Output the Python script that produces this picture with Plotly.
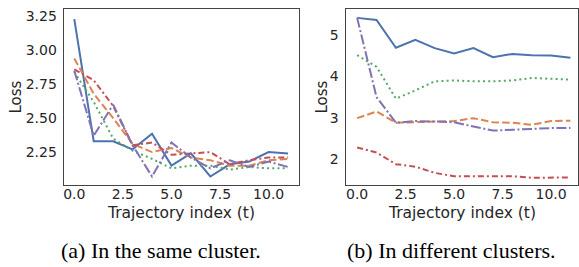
import plotly.graph_objects as go

W, H = 579, 267

t = list(range(12))

# (a) In the same cluster
a_blue = [3.23, 2.33, 2.33, 2.27, 2.385, 2.15, 2.24, 2.07, 2.16, 2.18, 2.25, 2.24]
a_orange = [2.94, 2.68, 2.50, 2.31, 2.25, 2.28, 2.21, 2.19, 2.15, 2.15, 2.19, 2.20]
a_green = [2.84, 2.62, 2.35, 2.26, 2.20, 2.13, 2.15, 2.15, 2.12, 2.14, 2.13, 2.13]
a_red = [2.86, 2.78, 2.59, 2.30, 2.32, 2.23, 2.24, 2.25, 2.16, 2.19, 2.21, 2.21]
a_purple = [2.85, 2.37, 2.60, 2.30, 2.07, 2.32, 2.21, 2.13, 2.19, 2.14, 2.18, 2.14]

# (b) In different clusters
b_blue = [5.41, 5.36, 4.69, 4.88, 4.68, 4.55, 4.68, 4.46, 4.54, 4.51, 4.50, 4.45]
b_orange = [2.99, 3.15, 2.88, 2.89, 2.91, 2.92, 2.99, 2.89, 2.88, 2.83, 2.92, 2.93]
b_green = [4.51, 4.23, 3.46, 3.66, 3.88, 3.90, 3.88, 3.88, 3.90, 3.96, 3.94, 3.92]
b_red = [2.28, 2.16, 1.88, 1.82, 1.67, 1.59, 1.59, 1.59, 1.59, 1.55, 1.55, 1.56]
b_purple = [5.41, 3.50, 2.88, 2.92, 2.91, 2.89, 2.79, 2.69, 2.71, 2.73, 2.75, 2.75]

a_yticks = [2.25, 2.50, 2.75, 3.00, 3.25]
b_yticks = [2, 3, 4, 5]
xticks = [0.0, 2.5, 5.0, 7.5, 10.0]
xlabel = "Trajectory index (t)"
ylabel = "Loss"
caption_a = "(a) In the same cluster."
caption_b = "(b) In different clusters."

colors = ["#4C72B0", "#DD8452", "#55A868", "#C44E52", "#8172B3"]
dashes = ["solid", "7.5px,3.2px", "2px,3.2px", "6px,3px,2px,3px", "10px,2.6px,2px,2.6px"]

fig = go.Figure()
for ys, xa, yax in [([a_blue, a_orange, a_green, a_red, a_purple], "x", "y"),
                    ([b_blue, b_orange, b_green, b_red, b_purple], "x2", "y2")]:
    for y, c, d in zip(ys, colors, dashes):
        fig.add_trace(go.Scatter(x=t, y=y, mode="lines", xaxis=xa, yaxis=yax,
                                 line=dict(color=c, width=2, dash=d),
                                 showlegend=False, hoverinfo="skip"))

tickfont = dict(family="DejaVu Sans", size=14, color="#262626")
axcommon = dict(showline=True, mirror=True, linecolor="#444444", linewidth=1.3,
                showgrid=False, zeroline=False, ticks="", ticklen=0, tickfont=tickfont)

top, bottom = 8, 185
ydom = [1 - bottom / H, 1 - top / H]

fig.update_layout(
    width=W, height=H,
    margin=dict(l=0, r=0, t=0, b=0),
    paper_bgcolor="white", plot_bgcolor="white",
    xaxis=dict(domain=[63 / W, 299 / W], range=[-0.54, 11.56], anchor="y",
               tickvals=xticks, ticktext=[f"{v:.1f}" for v in xticks],
               ticklabelstandoff=-4, **axcommon),
    yaxis=dict(domain=ydom, range=[2.005, 3.305], anchor="x",
               tickvals=a_yticks, ticktext=[f"{v:.2f}" for v in a_yticks],
               ticklabelstandoff=3, **axcommon),
    xaxis2=dict(domain=[345.7 / W, 1.0], range=[-0.6, 11.39], anchor="y2",
                tickvals=xticks, ticktext=[f"{v:.1f}" for v in xticks],
                ticklabelstandoff=-4, **axcommon),
    yaxis2=dict(domain=ydom, range=[1.37, 5.625], anchor="x2",
                tickvals=b_yticks, ticktext=[str(v) for v in b_yticks],
                ticklabelstandoff=3, **axcommon),
)

xlabfont = dict(family="DejaVu Sans", size=15.5, color="#262626")
ylabfont = dict(family="DejaVu Sans", size=15, color="#262626")
capfont = dict(family="Liberation Serif", size=22, color="black")

def ann(text, px, py, font, angle=0):
    fig.add_annotation(text=text, x=px / W, y=1 - py / H, xref="paper", yref="paper",
                       showarrow=False, font=font, textangle=angle,
                       xanchor="center", yanchor="middle")

ann(xlabel, 181, 212.5, xlabfont)
ann(xlabel, 462.5, 212.5, xlabfont)
ann(ylabel, 15, 96, ylabfont, -90)
ann(ylabel, 322, 96, ylabfont, -90)
ann(caption_a, 161, 250, capfont)
ann(caption_b, 452.5, 250, capfont)

fig.write_html("out.html", config={"displayModeBar": False},
               post_script="document.body.style.margin='0';document.body.style.padding='0';")
